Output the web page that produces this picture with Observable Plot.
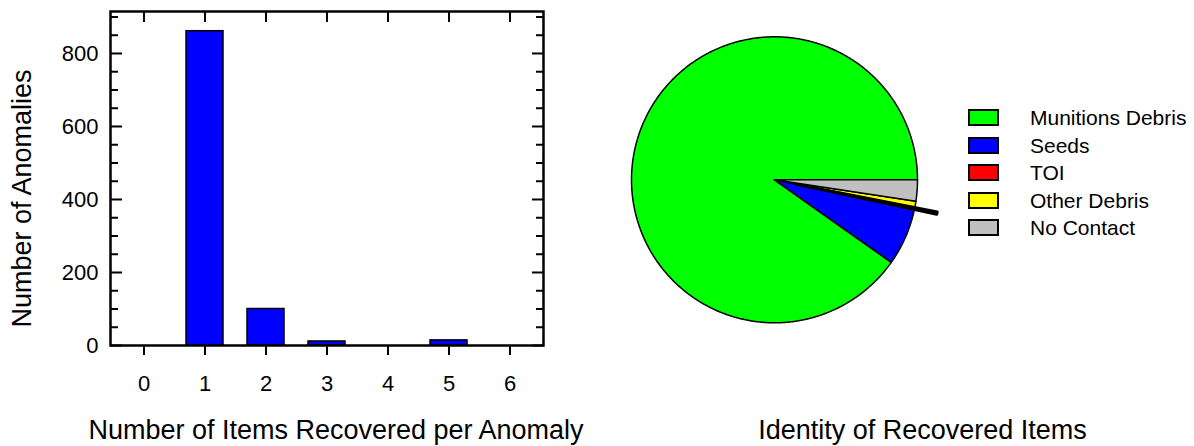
<!DOCTYPE html>
<html><head><meta charset="utf-8">
<script src="https://cdn.jsdelivr.net/npm/d3@7"></script>
<script src="https://cdn.jsdelivr.net/npm/@observablehq/plot@0.6"></script>
<style>
body{margin:0;background:#fff;font-family:"Liberation Sans",Arial,sans-serif;}
#wrap{position:relative;width:1194px;height:446px;overflow:hidden;}
#bar{position:absolute;left:0;top:0;}
#pie{position:absolute;left:600px;top:0;}
#legend{position:absolute;left:968px;top:103.75px;}
.row{display:flex;align-items:center;height:27.5px;}
.sw{width:27px;height:13px;border:2px solid #000;margin-right:31px;box-sizing:content-box;}
.lab{font-size:21px;color:#000;line-height:1;}
</style></head><body>
<div id="wrap"><div id="bar"></div><div id="pie"></div><div id="legend"></div></div>
<script>
// ---- data: bar chart ----
const itemsPerAnomaly = [0, 1, 2, 3, 4, 5, 6];
const anomalyCounts   = [0, 861, 100, 11, 0, 14, 0];
const yMajorTicks = [0, 200, 400, 600, 800];
const yMinorTicks = [50, 100, 150, 250, 300, 350, 450, 500, 550, 650, 700, 750, 850, 900];
const barXTitle = "Number of Items Recovered per Anomaly";
const barYTitle = "Number of Anomalies";

// ---- data: pie chart ----
const itemCategories = ["Munitions Debris", "Seeds", "TOI", "Other Debris", "No Contact"];
const itemTotals     = [1050, 75, 3, 8, 28];
const categoryColors = ["#00ff00", "#0000ff", "#ff0000", "#ffff00", "#c0c0c0"];
const explodedCategory = "TOI";
const pieTitle = "Identity of Recovered Items";

const FONT = '"Liberation Sans", Arial, sans-serif';

// ---- bar chart ----
const barData = itemsPerAnomaly.map((n, i) => ({n, count: anomalyCounts[i]}));
const tickW = 2;
const barPlot = Plot.plot({
  width: 600, height: 446,
  marginLeft: 110, marginRight: 57, marginTop: 11, marginBottom: 101,
  style: {fontFamily: FONT, fontSize: "22px", color: "#000", background: "transparent", overflow: "visible"},
  x: {type: "band", domain: itemsPerAnomaly, paddingInner: 0.4, paddingOuter: 0.2, label: null},
  y: {domain: [0, 915], label: null},
  marks: [
    Plot.barY(barData.filter(d => d.count > 0), {x: "n", y: "count", fill: "#0000ff", stroke: "#000", strokeWidth: 1.5}),
    // bottom: outward ticks with labels
    Plot.axisX({anchor: "bottom", ticks: itemsPerAnomaly, tickSize: 10, tickPadding: 20, strokeWidth: tickW, fontSize: 22, label: null}),
    // top: inward ticks
    Plot.axisX({anchor: "top", ticks: itemsPerAnomaly, tickSize: 10, insetTop: 10, tickFormat: () => "", strokeWidth: tickW, label: null}),
    // left
    Plot.axisY({anchor: "left", ticks: yMajorTicks, tickSize: 0, tickPadding: 12, fontSize: 22, label: null}),
    Plot.axisY({anchor: "left", ticks: yMajorTicks, tickSize: 12, insetLeft: 12, tickFormat: () => "", strokeWidth: tickW, label: null}),
    Plot.axisY({anchor: "left", ticks: yMinorTicks, tickSize: 8, insetLeft: 8, tickFormat: () => "", strokeWidth: tickW, label: null}),
    // right
    Plot.axisY({anchor: "right", ticks: yMajorTicks, tickSize: 12, insetRight: 12, tickFormat: () => "", strokeWidth: tickW, label: null}),
    Plot.axisY({anchor: "right", ticks: yMinorTicks, tickSize: 8, insetRight: 8, tickFormat: () => "", strokeWidth: tickW, label: null}),
    Plot.frame({stroke: "#000", strokeWidth: 2.5}),
    Plot.text([barXTitle], {text: d => d, frameAnchor: "bottom", textAnchor: "middle", lineAnchor: "middle", dx: 9, dy: 85, fontSize: 27}),
    Plot.text([barYTitle], {text: d => d, frameAnchor: "left", textAnchor: "middle", lineAnchor: "middle", rotate: -90, dx: -88, dy: 20, fontSize: 27})
  ]
});
document.getElementById("bar").appendChild(barPlot);

// ---- pie chart ----
const pieData = itemCategories.map((cat, i) => ({cat, value: itemTotals[i]}));
const arcs = d3.pie().sort(null).value(d => d.value)(pieData);
const slicePoints = [];
arcs.forEach(a => {
  const off = a.data.cat === explodedCategory ? 0.16 : 0;
  const mid = (a.startAngle + a.endAngle) / 2;
  const ox = off * Math.cos(mid), oy = off * Math.sin(mid);
  slicePoints.push({cat: a.data.cat, x: ox, y: oy});
  const n = Math.max(2, Math.ceil((a.endAngle - a.startAngle) / (Math.PI / 360)));
  for (let i = 0; i <= n; i++) {
    const t = a.startAngle + (a.endAngle - a.startAngle) * i / n;
    slicePoints.push({cat: a.data.cat, x: ox + Math.cos(t), y: oy + Math.sin(t)});
  }
});
const R = 143, cx = 174, cy = 179.3;
const piePlot = Plot.plot({
  width: 594, height: 446, margin: 0,
  style: {fontFamily: FONT, color: "#000", background: "transparent", overflow: "visible"},
  x: {domain: [-cx / R, (594 - cx) / R], axis: null},
  y: {domain: [-(446 - cy) / R, cy / R], axis: null},
  color: {domain: itemCategories, range: categoryColors},
  marks: [
    Plot.line(slicePoints.filter(d => d.cat !== explodedCategory), {x: "x", y: "y", z: "cat", fill: "cat", stroke: "#000", strokeWidth: 1.5, curve: "linear-closed"}),
    Plot.line(slicePoints.filter(d => d.cat === explodedCategory), {x: "x", y: "y", z: "cat", fill: "cat", stroke: "#000", strokeWidth: 3, curve: "linear-closed"}),
    Plot.text([pieTitle], {text: d => d, frameAnchor: "bottom", textAnchor: "middle", lineAnchor: "middle", dx: 25, dy: -16, fontSize: 27})
  ]
});
document.getElementById("pie").appendChild(piePlot);

// ---- legend ----
const legend = document.getElementById("legend");
itemCategories.forEach((cat, i) => {
  const row = document.createElement("div");
  row.className = "row";
  const sw = document.createElement("div");
  sw.className = "sw";
  sw.style.background = categoryColors[i];
  const lab = document.createElement("span");
  lab.className = "lab";
  lab.textContent = cat;
  row.appendChild(sw); row.appendChild(lab);
  legend.appendChild(row);
});
</script>
</body></html>
